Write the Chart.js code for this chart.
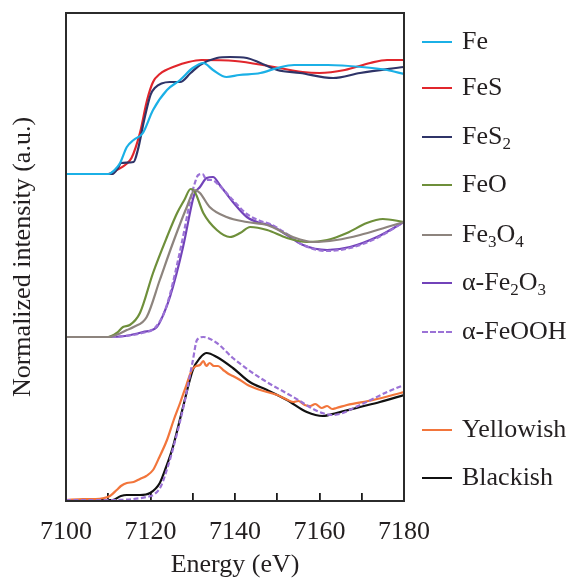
<!DOCTYPE html>
<html>
<head>
<meta charset="utf-8">
<script src="https://cdn.jsdelivr.net/npm/chart.js@4/dist/chart.umd.min.js"></script>
<style>
  html, body { margin: 0; padding: 0; background: #fff; }
  #wrap { position: relative; width: 577px; height: 581px; overflow: hidden; }
  #c { position: absolute; left: 0; top: 0; }
  .leg { position: absolute; left: 422px; height: 0; font-family: "Liberation Serif", "Times New Roman", serif; font-size: 26px; color: #231f20; white-space: nowrap; }
  .leg .sw { position: absolute; left: 0; top: -1px; width: 30px; height: 0; border-top: 2.5px solid #000; }
  .leg .tx { position: absolute; left: 40px; top: -16px; line-height: 30px; }
  .leg sub { font-size: 17px; vertical-align: -5px; line-height: 0; }
</style>
</head>
<body>
<div id="wrap">
  <canvas id="c" width="577" height="581"></canvas>
</div>
<script>
// ---- data (energy in eV, normalized intensity with vertical offsets) ----
const xTicksMajor = [7100, 7120, 7140, 7160, 7180];
const xTickStep = 10;

const feE  = [7100, 7110, 7111.5, 7112.8, 7114.4, 7116, 7118.2, 7120.6, 7123.9, 7127, 7130, 7132.5, 7134.8, 7138, 7141, 7146, 7150, 7154, 7162, 7170, 7176, 7180];
const feI  = [3.27, 3.27, 3.31, 3.38, 3.54, 3.61, 3.68, 3.91, 4.11, 4.21, 4.33, 4.38, 4.31, 4.24, 4.26, 4.28, 4.33, 4.36, 4.36, 4.34, 4.31, 4.27];

const fesE = [7100, 7110, 7112, 7114, 7115.5, 7117.5, 7119.2, 7120.6, 7122.2, 7126, 7129, 7132, 7140, 7148, 7156, 7160, 7166, 7172, 7176, 7180];
const fesI = [3.27, 3.27, 3.31, 3.36, 3.43, 3.68, 4.01, 4.19, 4.27, 4.35, 4.39, 4.41, 4.40, 4.35, 4.29, 4.28, 4.31, 4.38, 4.41, 4.41];

const fes2E = [7100, 7111, 7112.3, 7113, 7116, 7117, 7118.5, 7120, 7121, 7124.6, 7127, 7129.5, 7131.7, 7135.7, 7138.8, 7142.8, 7146, 7150, 7155.4, 7163.2, 7169.6, 7180];
const fes2I = [3.27, 3.27, 3.33, 3.38, 3.39, 3.51, 3.81, 4.06, 4.13, 4.19, 4.19, 4.28, 4.36, 4.43, 4.44, 4.43, 4.38, 4.31, 4.28, 4.23, 4.28, 4.34];

const feoE = [7100, 7110, 7112, 7113.5, 7115.1, 7117.5, 7120.6, 7123.9, 7126.3, 7128, 7129.5, 7130.5, 7132.5, 7135.7, 7138.8, 7141.2, 7143.6, 7147.6, 7152.3, 7157, 7161.8, 7166.5, 7171.2, 7175, 7180];
const feoI = [1.64, 1.64, 1.68, 1.74, 1.76, 1.88, 2.28, 2.64, 2.88, 3.01, 3.12, 3.09, 2.88, 2.71, 2.64, 2.68, 2.74, 2.71, 2.63, 2.59, 2.61, 2.68, 2.78, 2.82, 2.79];

const fe3o4E = [7100, 7110, 7113, 7114.4, 7116, 7119.1, 7122.2, 7125.3, 7128.6, 7130.5, 7131.7, 7134, 7138, 7142.8, 7147.6, 7153.7, 7158.5, 7164, 7169.6, 7176, 7180];
const fe3o4I = [1.64, 1.64, 1.68, 1.71, 1.74, 1.84, 2.21, 2.58, 2.94, 3.11, 3.08, 2.94, 2.84, 2.79, 2.76, 2.64, 2.59, 2.61, 2.66, 2.74, 2.79];

const fe2o3E = [7100, 7110, 7114, 7118.2, 7121.5, 7123, 7124.6, 7127.7, 7130, 7130.5, 7131.7, 7133.3, 7134.8, 7136.4, 7139.5, 7142.8, 7146, 7148.3, 7152.3, 7156.1, 7161.8, 7167.2, 7173.6, 7180];
const fe2o3I = [1.64, 1.64, 1.65, 1.69, 1.74, 1.86, 2.04, 2.54, 3.01, 3.08, 3.14, 3.23, 3.24, 3.16, 2.99, 2.84, 2.78, 2.76, 2.66, 2.56, 2.51, 2.54, 2.64, 2.79];

const feoohE = [7100, 7110, 7114, 7118, 7121, 7123, 7124.5, 7127.3, 7129.5, 7130.5, 7131.3, 7132.3, 7133.3, 7134.5, 7136.4, 7139.5, 7142.8, 7146, 7148.3, 7152.3, 7156.1, 7161.8, 7167.2, 7173.6, 7180];
const feoohI = [1.64, 1.64, 1.65, 1.68, 1.73, 1.86, 2.05, 2.56, 3.02, 3.18, 3.26, 3.27, 3.21, 3.21, 3.15, 3.01, 2.87, 2.80, 2.77, 2.67, 2.56, 2.50, 2.53, 2.63, 2.79];

const yellowE = [7100, 7104, 7107, 7109, 7110.4, 7112, 7113, 7114.4, 7116, 7117.5, 7119, 7120.6, 7122, 7123.9, 7125.5, 7127, 7128.5, 7129.8, 7130.8, 7131.7, 7132.5, 7133.2, 7134, 7135, 7136, 7137.2, 7138.5, 7139.5, 7141.2, 7143, 7146, 7150, 7152, 7153.8, 7155, 7156.5, 7157.8, 7159, 7160.5, 7161.8, 7163, 7164, 7166.5, 7172.7, 7180];
const yellowI = [0.01, 0.02, 0.02, 0.03, 0.05, 0.11, 0.15, 0.18, 0.19, 0.22, 0.25, 0.31, 0.43, 0.61, 0.81, 0.98, 1.16, 1.31, 1.35, 1.36, 1.40, 1.35, 1.38, 1.35, 1.35, 1.31, 1.27, 1.25, 1.21, 1.16, 1.11, 1.06, 1.02, 0.99, 1.00, 0.96, 0.95, 0.97, 0.93, 0.95, 0.92, 0.93, 0.96, 1.01, 1.09];

const blackE = [7100, 7111, 7113, 7114.4, 7117.5, 7119.9, 7122.2, 7123.7, 7125.3, 7127.7, 7130, 7131.7, 7133.3, 7135.7, 7139.5, 7143.5, 7147.6, 7152.3, 7157, 7160.8, 7164, 7169.6, 7174.3, 7180];
const blackI = [0.01, 0.01, 0.05, 0.06, 0.06, 0.08, 0.18, 0.34, 0.54, 0.94, 1.31, 1.43, 1.48, 1.44, 1.33, 1.19, 1.11, 1.01, 0.89, 0.85, 0.88, 0.94, 0.99, 1.06];

const feoohLowE = [7100, 7111, 7116, 7119, 7121, 7122.5, 7124, 7125.5, 7128, 7130, 7131, 7132.5, 7135.7, 7139.5, 7146, 7153.8, 7160, 7163.2, 7169.6, 7176, 7180];
const feoohLowI = [0.01, 0.01, 0.02, 0.04, 0.07, 0.15, 0.33, 0.55, 0.98, 1.40, 1.61, 1.64, 1.58, 1.43, 1.23, 1.04, 0.89, 0.86, 0.96, 1.09, 1.16];

const seriesNames = ['Fe', 'FeS', 'FeS2', 'FeO', 'Fe3O4', 'α-Fe2O3', 'α-FeOOH', 'α-FeOOH (ref.)', 'Yellowish', 'Blackish'];

// ---- build ----
const pts = (xs, ys) => xs.map((x, i) => ({ x: x, y: ys[i] }));
const FONT = '"Liberation Serif", "Times New Roman", serif';
const C = {
  fe: '#1bb0e6', fes: '#e1262c', fes2: '#2f3468', feo: '#6e8f3a', fe3o4: '#8d847e',
  fe2o3: '#7243b9', feooh: '#9b72d6', yellow: '#f2753b', black: '#111111'
};

function ds(label, xs, ys, color, dash) {
  return {
    label: label, data: pts(xs, ys), borderColor: color, backgroundColor: color,
    borderWidth: 2.2, pointRadius: 0, fill: false, cubicInterpolationMode: 'monotone',
    borderDash: dash || []
  };
}

const datasets = [
  ds(seriesNames[4], fe3o4E, fe3o4I, C.fe3o4),
  ds(seriesNames[3], feoE, feoI, C.feo),
  ds(seriesNames[6], feoohE, feoohI, C.feooh, [5, 2.5]),
  ds(seriesNames[5], fe2o3E, fe2o3I, C.fe2o3),
  ds(seriesNames[0], feE, feI, C.fe),
  ds(seriesNames[2], fes2E, fes2I, C.fes2),
  ds(seriesNames[1], fesE, fesI, C.fes),
  ds(seriesNames[7], feoohLowE, feoohLowI, C.feooh, [5, 2.5]),
  ds(seriesNames[8], yellowE, yellowI, C.yellow),
  ds(seriesNames[9], blackE, blackI, C.black)
];

// all tick positions (major + minor) generated from the major tick list
const allTicks = [];
for (let v = xTicksMajor[0]; v <= xTicksMajor[xTicksMajor.length - 1]; v += xTickStep) allTicks.push(v);

const framePlugin = {
  id: 'frame',
  afterDraw(chart) {
    const ctx = chart.ctx;
    const a = chart.chartArea;
    ctx.save();
    ctx.setLineDash([]);
    ctx.strokeStyle = '#2b2b2b';
    ctx.lineWidth = 2;
    ctx.strokeRect(a.left, a.top, a.right - a.left, a.bottom - a.top);
    ctx.restore();
  }
};

new Chart(document.getElementById('c'), {
  type: 'line',
  data: { datasets: datasets },
  options: {
    responsive: false,
    animation: false,
    devicePixelRatio: 1,
    layout: { padding: { top: 13, right: 173, left: 0, bottom: 0 } },
    plugins: { legend: { display: false }, tooltip: { enabled: false } },
    scales: {
      x: {
        type: 'linear', min: xTicksMajor[0], max: xTicksMajor[xTicksMajor.length - 1],
        afterFit: s => { s.height = 80; },
        afterBuildTicks: s => { s.ticks = allTicks.map(v => ({ value: v })); },
        ticks: { color: '#231f20', font: { family: FONT, size: 26 }, padding: 24, maxRotation: 0, autoSkip: false,
                 callback: v => (xTicksMajor.includes(v) ? String(v) : '') },
        grid: { display: true, drawOnChartArea: false, drawTicks: true, tickLength: -8, color: '#1a1a1a', lineWidth: 1.8 },
        border: { display: false },
        title: { display: true, text: 'Energy (eV)', color: '#231f20', font: { family: FONT, size: 26 }, padding: { top: 0, bottom: 0 } }
      },
      y: {
        type: 'linear', min: 0, max: 4.88,
        afterFit: s => { s.width = 66; },
        ticks: { display: false },
        grid: { display: false, drawTicks: false },
        border: { display: false },
        title: { display: true, text: 'Normalized intensity (a.u.)', color: '#231f20', font: { family: FONT, size: 26 }, padding: { top: 8, bottom: 0 } }
      }
    }
  },
  plugins: [framePlugin]
});

// ---- legend (HTML text) ----
const legendItems = [
  { html: 'Fe', color: C.fe, y: 42 },
  { html: 'FeS', color: C.fes, y: 88 },
  { html: 'FeS<sub>2</sub>', color: C.fes2, y: 137 },
  { html: 'FeO', color: C.feo, y: 185 },
  { html: 'Fe<sub>3</sub>O<sub>4</sub>', color: C.fe3o4, y: 235 },
  { html: 'α-Fe<sub>2</sub>O<sub>3</sub>', color: C.fe2o3, y: 283 },
  { html: 'α-FeOOH', color: C.feooh, y: 332, dashed: true },
  { html: 'Yellowish', color: C.yellow, y: 430 },
  { html: 'Blackish', color: C.black, y: 478 }
];
const wrap = document.getElementById('wrap');
legendItems.forEach(it => {
  const d = document.createElement('div');
  d.className = 'leg';
  d.style.top = it.y + 'px';
  const sw = document.createElement('div');
  sw.className = 'sw';
  sw.style.borderTop = '2.5px ' + (it.dashed ? 'dashed ' : 'solid ') + it.color;
  const tx = document.createElement('div');
  tx.className = 'tx';
  tx.innerHTML = it.html;
  d.appendChild(sw); d.appendChild(tx);
  wrap.appendChild(d);
});
</script>
</body>
</html>
